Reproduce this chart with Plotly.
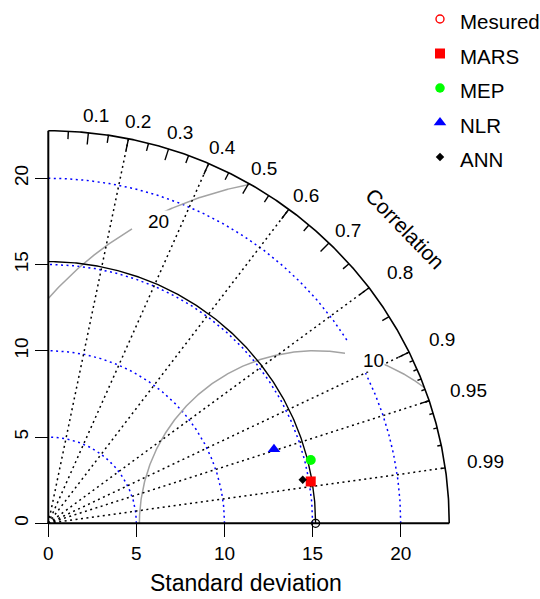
import numpy as np
import plotly.graph_objects as go

# ---- data ---------------------------------------------------------------
ref_name = "Mesured"
ref_sd = 15.17

models = ["MARS", "MEP", "NLR", "ANN"]
model_sd = [15.09, 15.34, 13.51, 14.66]
model_corr = [0.987, 0.971, 0.948, 0.985]

sd_ticks = [0, 5, 10, 15, 20]
sd_arcs = [5, 10, 15, 20]
corr_labels = [0.1, 0.2, 0.3, 0.4, 0.5, 0.6, 0.7, 0.8, 0.9, 0.95, 0.99]
corr_lines = [0.2, 0.4, 0.6, 0.8, 0.9, 0.95, 0.99]
rms_levels = [10, 20]

# ---- styles -------------------------------------------------------------
model_colors = ["#ff0000", "#00ff00", "#0000ff", "#000000"]
model_symbols = ["square", "circle", "triangle-up", "diamond"]
model_sizes = [10, 10, 11, 6.5]
legend_sizes = [10, 9.5, 11, 6.5]

FONT = "Liberation Sans, Arial, sans-serif"
FS = 19
FS_CORR = 21
FS_LEG = 20.5
FS_TITLE = 23
W, H = 540, 599
DOT = "2px,3.5px"
GRAY = "#a3a3a3"

maxray = 1.5 * ref_sd

# pixel placement of the diagram origin and scale; the axes span the page
ox, oy = 48.3, 523.3
sx, sy = 17.62, 17.25
x_rng = [(0 - ox) / sx, (W - ox) / sx]
y_rng = [-(H - oy) / sy, oy / sy]


def arc(cx, cy, r, a0, a1, n=240):
    t = np.radians(np.linspace(a0, a1, n))
    return list(cx + r * np.cos(t)), list(cy + r * np.sin(t))


fig = go.Figure()


def add_line(x, y, color="black", width=1.4, dash="solid"):
    fig.add_trace(go.Scatter(x=x, y=y, mode="lines", hoverinfo="skip",
                             showlegend=False,
                             line=dict(color=color, width=width, dash=dash)))


# standard deviation arcs (blue dotted); the outermost one is broken
# where the "10" contour label sits
sd_gap = {20: (25.8, 32.1)}
for r in sd_arcs:
    if r in sd_gap:
        g0, g1 = sd_gap[r]
        xa, ya = arc(0, 0, r, 0, g0)
        xb, yb = arc(0, 0, r, g1, 90)
        add_line(xa + [None] + xb, ya + [None] + yb, "#0000ff", 1.5, DOT)
    else:
        x, y = arc(0, 0, r, 0, 90)
        add_line(x, y, "#0000ff", 1.5, DOT)

# centred RMS difference contours around the reference point (gray)
rms_gap = {10: (68.0, 80.4), 20: (115.7, 121.4)}
for g in rms_levels:
    cphi = (maxray ** 2 - ref_sd ** 2 - g ** 2) / (2 * ref_sd * g)
    start = np.degrees(np.arccos(np.clip(cphi, -1, 1)))
    end = 180.0 if g <= ref_sd else np.degrees(np.arccos(-ref_sd / g))
    g0, g1 = rms_gap[g]
    xa, ya = arc(ref_sd, 0, g, start, g0)
    xb, yb = arc(ref_sd, 0, g, g1, end)
    add_line(xa + [None] + xb, ya + [None] + yb, GRAY, 1.5)

# correlation rays (black dotted)
cx, cy = [], []
for c in corr_lines:
    th = np.arccos(c)
    cx += [0, maxray * np.cos(th), None]
    cy += [0, maxray * np.sin(th), None]
add_line(cx, cy, "black", 1.5, DOT)

# reference standard deviation arc
x, y = arc(0, 0, ref_sd, 0, 90)
add_line(x, y, "black", 1.4)

# outer correlation arc and its tick marks
x, y = arc(0, 0, maxray, 0, 90, 400)
add_line(x, y, "black", 1.6)
tx, ty = [], []
tick_sets = [(np.arange(0.1, 0.91, 0.1), 0.97),
             (np.arange(0.05, 0.96, 0.1), 0.98),
             (np.arange(0.91, 0.995, 0.01), 0.99)]
for vals, f in tick_sets:
    for c in vals:
        th = np.arccos(c)
        tx += [maxray * np.cos(th), f * maxray * np.cos(th), None]
        ty += [maxray * np.sin(th), f * maxray * np.sin(th), None]
add_line(tx, ty, "black", 1.4)

# frame of the quarter circle
add_line([0, maxray, None, 0, 0], [0, 0, None, 0, maxray], "black", 2.0)

# reference point
fig.add_trace(go.Scatter(x=[ref_sd], y=[0], mode="markers", showlegend=False,
                         hoverinfo="skip",
                         marker=dict(symbol="circle-open", size=8, color="black",
                                     line=dict(width=1.3, color="black"))))

# model points
for name, s, c, col, sym, sz in zip(models, model_sd, model_corr,
                                    model_colors, model_symbols, model_sizes):
    th = np.arccos(c)
    fig.add_trace(go.Scatter(x=[s * np.cos(th)], y=[s * np.sin(th)], mode="markers",
                             name=name, showlegend=False,
                             marker=dict(symbol=sym, size=sz, color=col,
                                         line=dict(width=0))))

annotations = []

# correlation labels
for c in corr_labels:
    th = np.arccos(c)
    r = 1.05 * maxray
    if c >= 0.75:
        a = dict(xanchor="left", xshift=0, yshift=4)
    else:
        a = dict(xanchor="center", xshift=5.5, yshift=-2)
    annotations.append(dict(x=r * np.cos(th), y=r * np.sin(th), xref="x", yref="y",
                            text=f"{c:g}", showarrow=False, yanchor="middle",
                            font=dict(family=FONT, size=FS, color="black"), **a))

annotations.append(dict(x=20.25, y=17.1, xref="x", yref="y", text="Correlation",
                        showarrow=False, textangle=46,
                        font=dict(family=FONT, size=FS_CORR, color="black")))

# RMS contour labels
rms_label_at = {10: (70.9, 0, 0), 20: (117.0, 3, -6)}
for g in rms_levels:
    ang, dx, dy = rms_label_at[g]
    t = np.radians(ang)
    annotations.append(dict(x=ref_sd + g * np.cos(t), y=g * np.sin(t), xref="x", yref="y",
                            text=str(g), showarrow=False, bgcolor="white",
                            borderpad=0, xshift=dx, yshift=dy,
                            font=dict(family=FONT, size=FS, color="black")))

# axis title
annotations.append(dict(x=maxray / 2, y=583, xref="x", yref="y2", xshift=-3,
                        text="Standard deviation", showarrow=False,
                        xanchor="center", yanchor="middle",
                        font=dict(family=FONT, size=FS_TITLE, color="black")))

# legend (drawn on a pixel-space overlay)
leg_names = [ref_name] + models
leg_colors = ["#ff0000"] + model_colors
leg_symbols = ["circle-open"] + model_symbols
leg_sz = [8] + legend_sizes
leg_x, leg_y0, leg_dy = 440, 19.0, 34.5
for i, (n, col, sym, sz) in enumerate(zip(leg_names, leg_colors, leg_symbols, leg_sz)):
    yy = leg_y0 + i * leg_dy
    fig.add_trace(go.Scatter(x=[leg_x], y=[yy], xaxis="x2", yaxis="y2", mode="markers",
                             showlegend=False, hoverinfo="skip",
                             marker=dict(symbol=sym, size=sz, color=col,
                                         line=dict(width=1.4 if "open" in sym else 0,
                                                   color=col))))
    annotations.append(dict(x=leg_x + 18, y=yy + 2.5, xref="x2", yref="y2", text=n,
                            showarrow=False, xanchor="left", yanchor="middle",
                            font=dict(family=FONT, size=FS_LEG, color="black")))

axis_font = dict(family=FONT, size=FS, color="black")
fig.update_layout(
    width=W, height=H, margin=dict(l=0, r=0, t=0, b=0),
    paper_bgcolor="white", plot_bgcolor="rgba(0,0,0,0)",
    showlegend=False, annotations=annotations,
    xaxis=dict(domain=[0, 1], range=x_rng, anchor="free", position=(H - oy) / H,
               tickvals=sd_ticks, ticktext=[str(v) for v in sd_ticks],
               ticks="outside", ticklen=13, tickwidth=1.4, tickcolor="black",
               showline=False, showgrid=False, zeroline=False,
               tickfont=axis_font),
    yaxis=dict(domain=[0, 1], range=y_rng, anchor="free", position=ox / W,
               tickvals=sd_ticks, ticktext=[str(v) for v in sd_ticks],
               ticks="outside", ticklen=13, tickwidth=1.4, tickcolor="black",
               tickangle=-90, showline=False, showgrid=False, zeroline=False,
               tickfont=axis_font),
    xaxis2=dict(domain=[0, 1], range=[0, W], visible=False, anchor="y2"),
    yaxis2=dict(domain=[0, 1], range=[H, 0], visible=False, anchor="x2"),
)

fig.write_html("out.html")
